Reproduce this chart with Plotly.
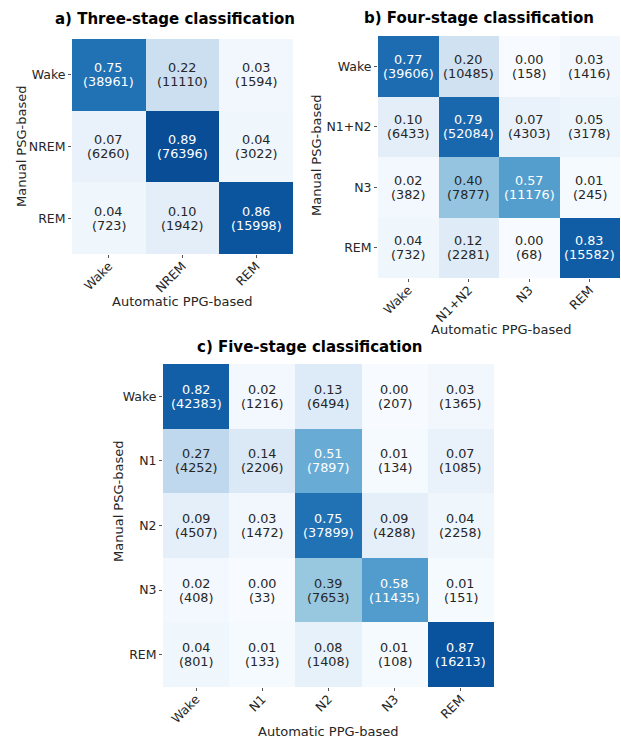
import plotly.graph_objects as go

# ---- data -------------------------------------------------------------
labels_3 = ["Wake", "NREM", "REM"]
counts_3 = [
    [38961, 11110, 1594],
    [6260, 76396, 3022],
    [723, 1942, 15998],
]
ratios_3 = [
    [0.75, 0.22, 0.03],
    [0.07, 0.89, 0.04],
    [0.04, 0.10, 0.86],
]

labels_4 = ["Wake", "N1+N2", "N3", "REM"]
counts_4 = [
    [39606, 10485, 158, 1416],
    [6433, 52084, 4303, 3178],
    [382, 7877, 11176, 245],
    [732, 2281, 68, 15582],
]
ratios_4 = [
    [0.77, 0.20, 0.00, 0.03],
    [0.10, 0.79, 0.07, 0.05],
    [0.02, 0.40, 0.57, 0.01],
    [0.04, 0.12, 0.00, 0.83],
]

labels_5 = ["Wake", "N1", "N2", "N3", "REM"]
counts_5 = [
    [42383, 1216, 6494, 207, 1365],
    [4252, 2206, 7897, 134, 1085],
    [4507, 1472, 37899, 4288, 2258],
    [408, 33, 7653, 11435, 151],
    [801, 133, 1408, 108, 16213],
]
ratios_5 = [
    [0.82, 0.02, 0.13, 0.00, 0.03],
    [0.27, 0.14, 0.51, 0.01, 0.07],
    [0.09, 0.03, 0.75, 0.09, 0.04],
    [0.02, 0.00, 0.39, 0.58, 0.01],
    [0.04, 0.01, 0.08, 0.01, 0.87],
]

titles = ["a) Three-stage classification",
          "b) Four-stage classification",
          "c) Five-stage classification"]

# ---- styling ----------------------------------------------------------
W, H = 621, 739
FONT = "DejaVu Sans"
DARK = "#262626"
CELL_SIZE = 12.8
TICK_SIZE = 12.5

blues_hex = ["#f7fbff", "#deebf7", "#c6dbef", "#9ecae1", "#6baed6",
             "#4292c6", "#2171b5", "#08519c", "#08306b"]
blues = [[i / (len(blues_hex) - 1), c] for i, c in enumerate(blues_hex)]

# panel boxes in pixels: (left, right, top, bottom)
boxes = [
    (72, 293, 39, 254),
    (378, 620, 36, 278),
    (163, 494, 364, 687),
]
# title centres, x-title centres, y-title centres (pixels)
title_pos = [(175, 19), (479, 18), (309, 347)]
xtitle_pos = [(182, 301), (501, 329), (328, 731)]
ytitle_pos = [(21, 147), (317, 156), (118, 502)]


def px(x):
    return x / W


def py(y):
    return 1 - y / H


panels = [
    (labels_3, counts_3, ratios_3),
    (labels_4, counts_4, ratios_4),
    (labels_5, counts_5, ratios_5),
]

fig = go.Figure()
annotations = []

for i, (labels, counts, ratios) in enumerate(panels):
    n = len(labels)
    ax = "" if i == 0 else str(i + 1)
    idx = list(range(n))
    fig.add_trace(go.Heatmap(
        z=ratios, x=idx, y=idx,
        colorscale=blues, zmin=0, zmax=1,
        showscale=False, hoverinfo="skip",
        xaxis="x" + ax, yaxis="y" + ax,
    ))
    l, r, t, b = boxes[i]
    fig.layout["xaxis" + ax] = dict(
        domain=[px(l), px(r)], anchor="y" + ax,
        range=[-0.5, n - 0.5], tickvals=idx, ticktext=labels,
        tickangle=-45, ticks="outside", ticklen=3, tickcolor="#555",
        ticklabelstandoff=-4,
        tickfont=dict(family=FONT, size=TICK_SIZE, color=DARK),
        showgrid=False, zeroline=False, showline=False,
    )
    fig.layout["yaxis" + ax] = dict(
        domain=[py(b), py(t)], anchor="x" + ax,
        range=[n - 0.5, -0.5], tickvals=idx, ticktext=labels,
        ticks="outside", ticklen=3, tickcolor="#555",
        tickfont=dict(family=FONT, size=TICK_SIZE, color=DARK),
        showgrid=False, zeroline=False, showline=False,
    )
    # cell annotations: ratio on top, count below
    for rr in idx:
        for cc in idx:
            v = ratios[rr][cc]
            col = "white" if v >= 0.5 else DARK
            for txt, shift in ((f"{v:.2f}", 7), (f"({counts[rr][cc]})", -7)):
                annotations.append(dict(
                    x=cc, y=rr, xref="x" + ax, yref="y" + ax,
                    text=txt, showarrow=False, yshift=shift,
                    font=dict(family=FONT, size=CELL_SIZE, color=col),
                    xanchor="center", yanchor="middle",
                ))
    tx, ty = title_pos[i]
    annotations.append(dict(
        x=px(tx), y=py(ty), xref="paper", yref="paper",
        text=f"<b>{titles[i]}</b>", showarrow=False,
        font=dict(family=FONT, size=15, color="black"),
        xanchor="center", yanchor="middle",
    ))
    xx, xy = xtitle_pos[i]
    annotations.append(dict(
        x=px(xx), y=py(xy), xref="paper", yref="paper",
        text="Automatic PPG-based", showarrow=False,
        font=dict(family=FONT, size=13, color=DARK),
        xanchor="center", yanchor="middle",
    ))
    yx, yy = ytitle_pos[i]
    annotations.append(dict(
        x=px(yx), y=py(yy), xref="paper", yref="paper",
        text="Manual PSG-based", showarrow=False, textangle=-90,
        font=dict(family=FONT, size=13, color=DARK),
        xanchor="center", yanchor="middle",
    ))

fig.update_layout(
    width=W, height=H,
    margin=dict(l=0, r=0, t=0, b=0),
    paper_bgcolor="white", plot_bgcolor="white",
    annotations=annotations,
    showlegend=False,
)

fig.write_html("out.html")
